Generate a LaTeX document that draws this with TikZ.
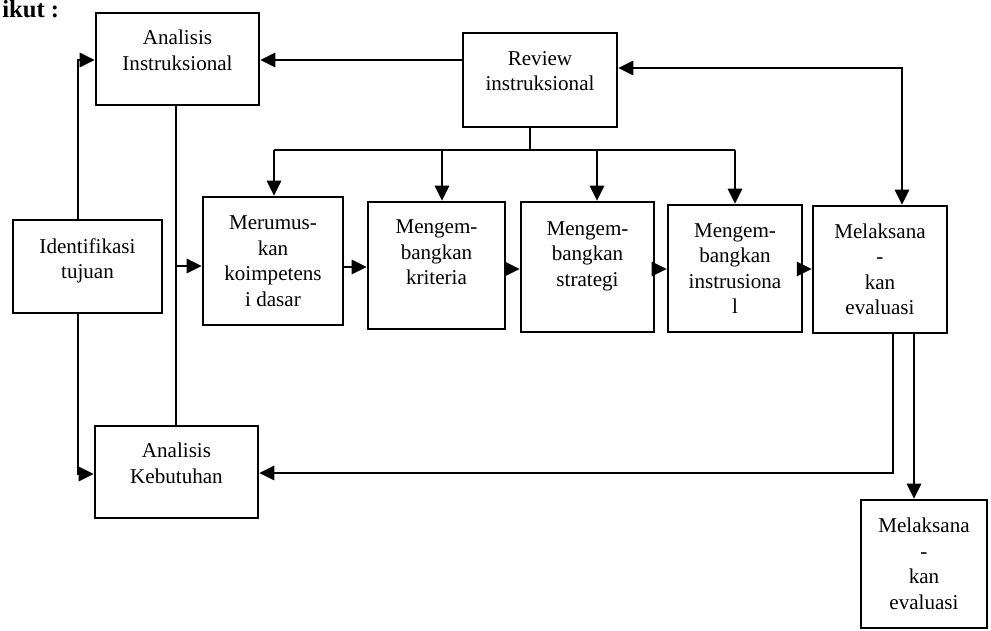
\documentclass[tikz,border=0pt]{standalone}
\usepackage{fontspec}
\setmainfont{Liberation Serif}
\usetikzlibrary{arrows.meta}
\newcommand{\txtlift}[1]{\rule[-#1]{0pt}{0pt}}
\begin{document}
\begin{tikzpicture}[line width=1.5pt, >={Triangle[length=8.5pt,width=8pt]},
    box/.style={draw, rectangle, align=center, inner sep=2pt,
        font=\fontsize{12}{14.5}\selectfont}]
    \useasboundingbox (0,0) rectangle (19.82,-12.62);
    % Cut-off caption text
    \node[anchor=base west, inner sep=0pt, font=\bfseries\fontsize{14}{16}\selectfont] (cap) at (0.02,-0.36) {ikut :};
    % Boxes
    \node[box, minimum width=3.26cm, minimum height=1.84cm] (ai) at (3.55,-1.18) {Analisis\\Instruksional\txtlift{10pt}};
    \node[box, minimum width=3.08cm, minimum height=1.88cm] (rev) at (10.8,-1.6) {Review\\instruksional\txtlift{10pt}};
    \node[box, minimum width=2.98cm, minimum height=1.86cm] (idt) at (1.75,-5.33) {Identifikasi\\tujuan\txtlift{9pt}};
    \node[box, minimum width=2.8cm, minimum height=2.56cm] (mer) at (5.46,-5.22) {Merumus-\\kan\\koimpetens\\i dasar};
    \node[box, minimum width=2.74cm, minimum height=2.54cm] (kri) at (8.73,-5.31) {Mengem-\\bangkan\\kriteria\txtlift{15pt}};
    \node[box, minimum width=2.66cm, minimum height=2.6cm] (str) at (11.75,-5.34) {Mengem-\\bangkan\\strategi\txtlift{15pt}};
    \node[box, minimum width=2.68cm, minimum height=2.54cm] (ins) at (14.7,-5.37) {Mengem-\\bangkan\\instrusiona\\l};
    \node[box, minimum width=2.68cm, minimum height=2.54cm] (mel) at (17.6,-5.39) {Melaksana\\-\\kan\\evaluasi};
    \node[box, minimum width=3.26cm, minimum height=1.84cm] (akb) at (3.53,-9.44) {Analisis\\Kebutuhan\txtlift{10pt}};
    \node[box, minimum width=2.52cm, minimum height=2.56cm] (mel2) at (18.48,-11.28) {Melaksana\\-\\kan\\evaluasi};
    % Left side
    \draw[->] (idt.north -| 1.56,0) |- (ai.west |- 0,-1.2);
    \draw[->] (idt.south -| 1.56,0) |- (akb.west |- 0,-9.48);
    \draw (ai.south -| 3.52,0) -- (akb.north -| 3.52,0);
    \draw[->] (3.52,-5.32) -- (mer.west |- 0,-5.32);
    % Review
    \draw[->] (rev.west |- 0,-1.2) -- (ai.east |- 0,-1.2);
    \draw (rev.south -| 10.6,0) -- (10.6,-3);
    \draw (5.48,-3) -- (14.7,-3);
    \foreach \n/\x in {mer/5.48, kri/8.84, str/11.94, ins/14.7}
        \draw[->] (\x,-3) -- (\n.north -| \x,0);
    \draw[<->] (rev.east |- 0,-1.36) -| (mel.north -| 18.04,0);
    % Row
    \draw[->] (mer.east |- 0,-5.34) -- (kri.west |- 0,-5.34);
    \draw[->] (kri.east |- 0,-5.38) -- (str.west |- 0,-5.38);
    \draw[->] (str.east |- 0,-5.38) -- (ins.west |- 0,-5.38);
    \draw[->] (ins.east |- 0,-5.38) -- (mel.west |- 0,-5.38);
    % Evaluation
    \draw[->] (mel.south -| 17.86,0) |- (akb.east |- 0,-9.46);
    \draw[->] (mel.south -| 18.28,0) -- (mel2.north -| 18.28,0);
\end{tikzpicture}
\end{document}
